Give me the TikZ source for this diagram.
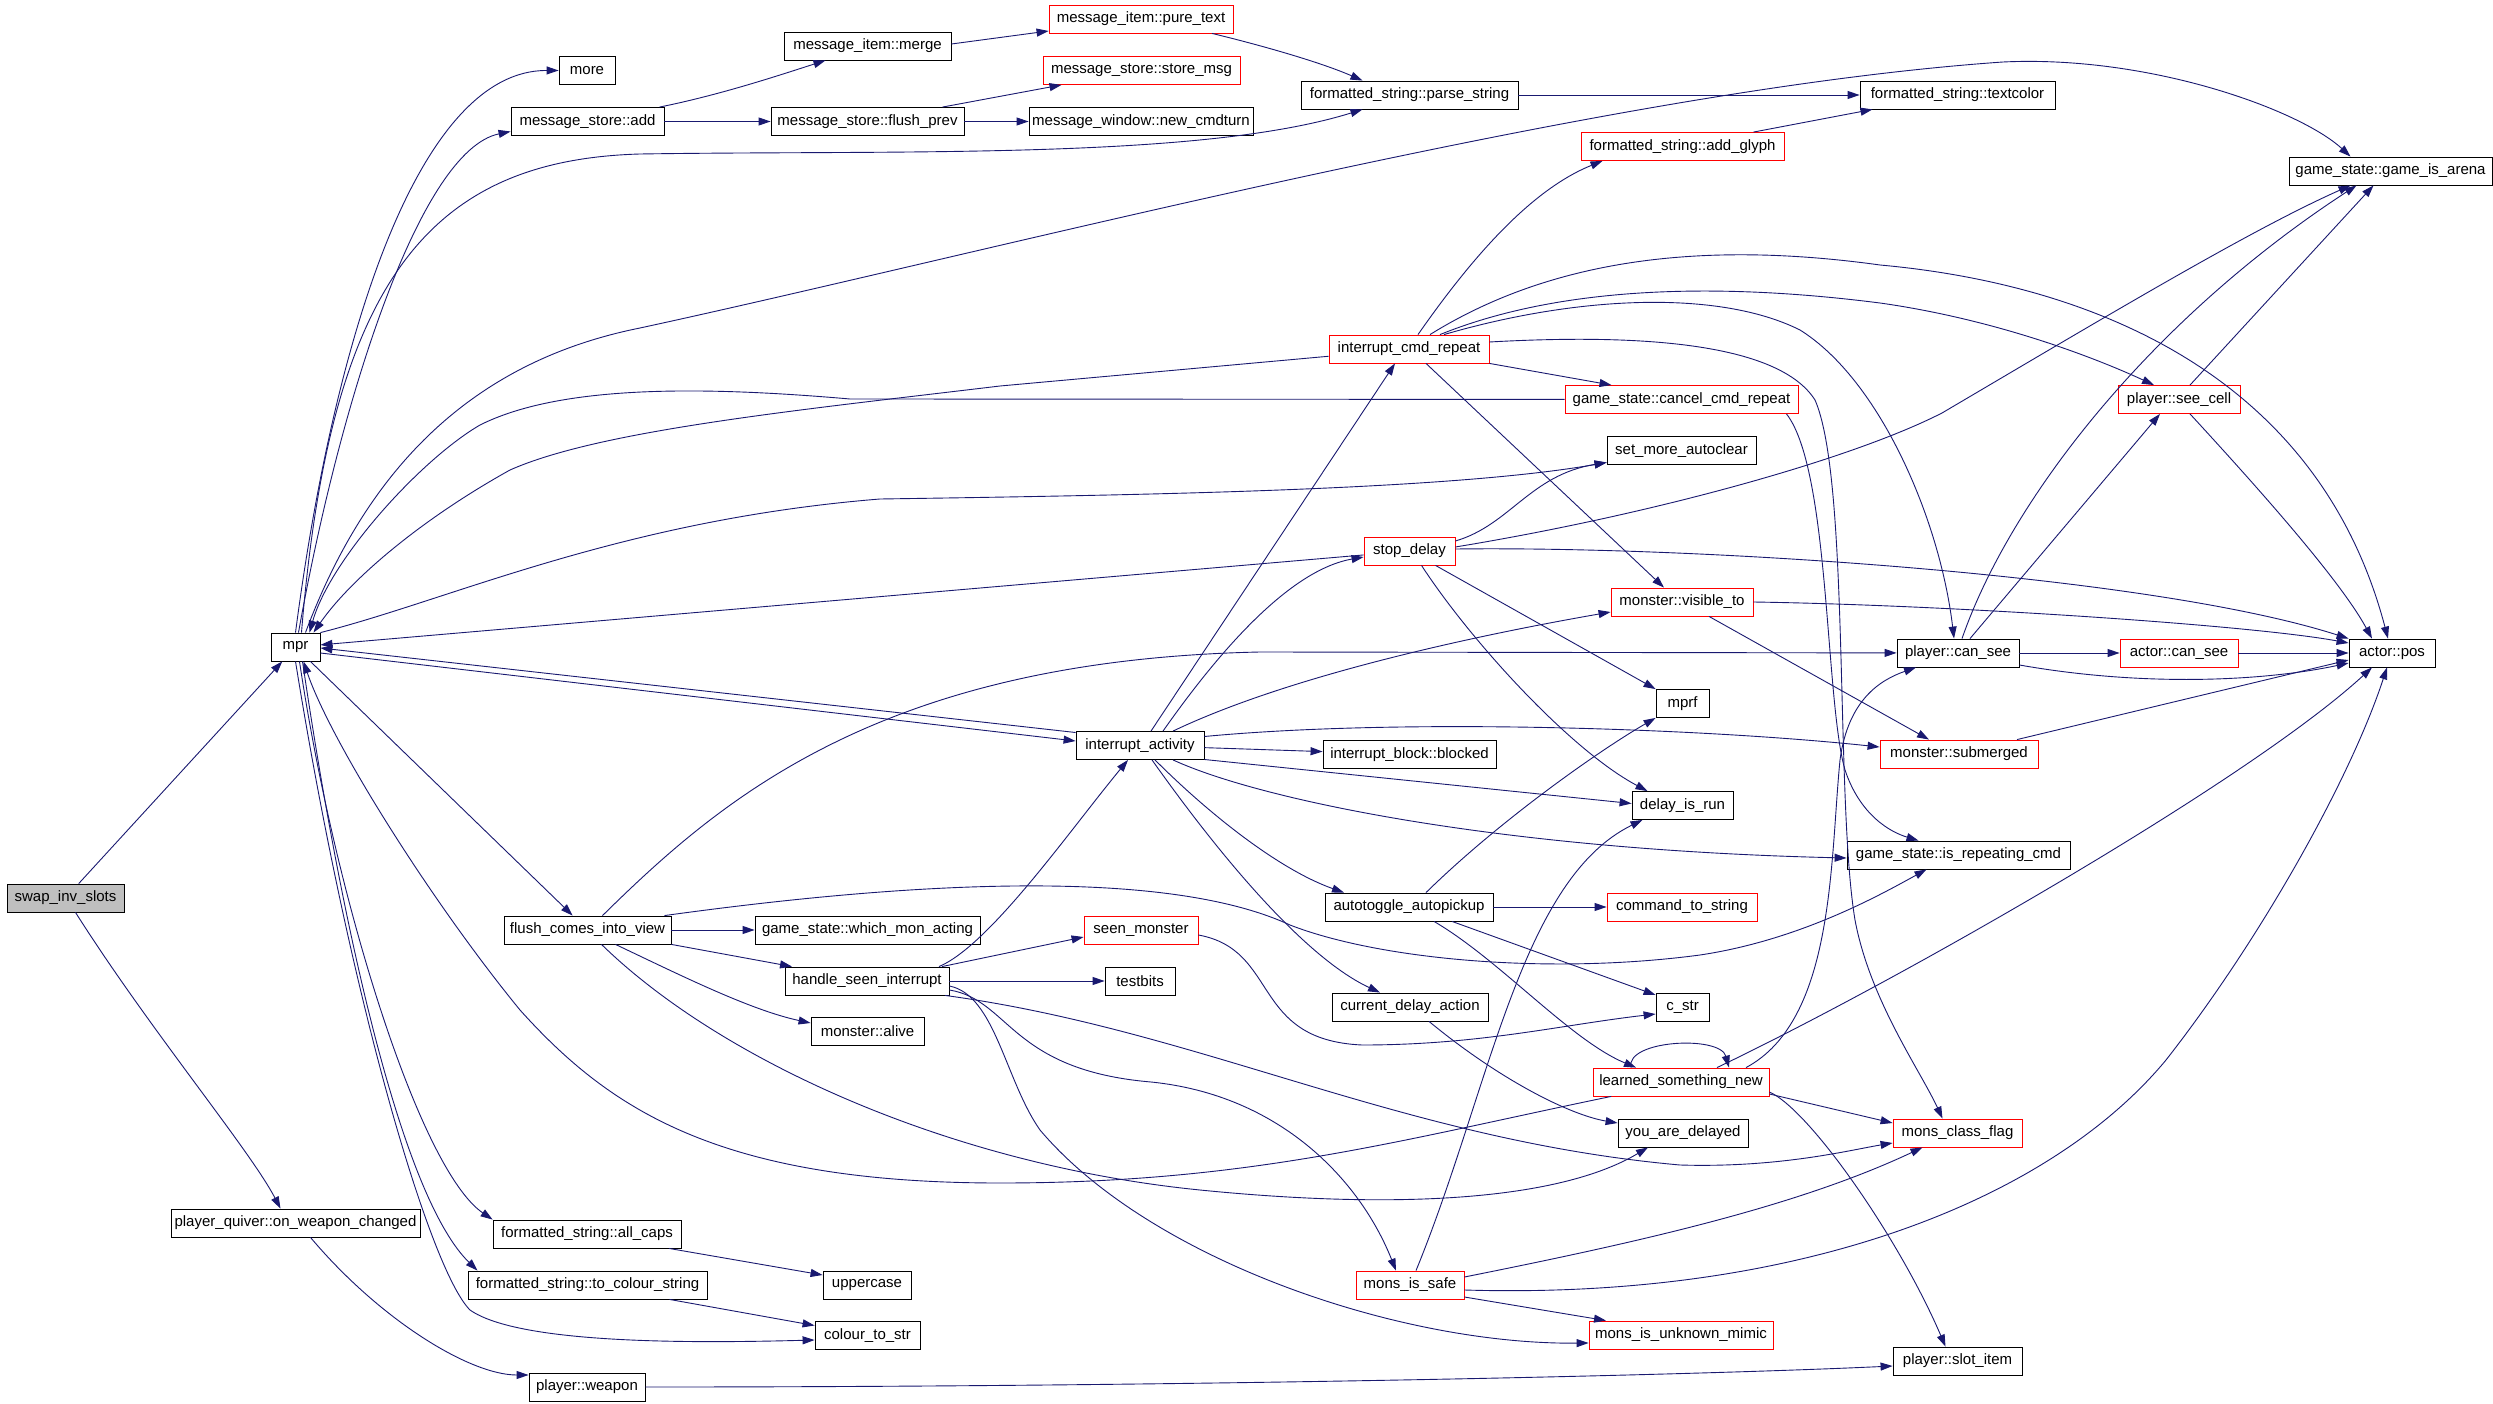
\documentclass[tikz,border=0pt]{standalone}
\usepackage{fontspec}
\setmainfont{Liberation Sans}
\usetikzlibrary{arrows.meta}
\definecolor{edgecol}{HTML}{191970}
\definecolor{swapgray}{HTML}{BFBFBF}
\begin{document}
\begin{tikzpicture}[x=1pt,y=-1pt,
  nb/.style={draw=black, line width=0.85pt, fill=white, inner sep=0pt, minimum height=28pt, font=\fontsize{15pt}{18pt}\selectfont},
  rb/.style={nb, draw=red},
  cedge/.style={draw=edgecol, line width=0.9pt, -{Triangle[length=12pt,width=8pt]}}]
\fill[white] (0,0) rectangle (2493,1404);
\path[use as bounding box] (0,0) rectangle (2493,1404);

% nodes
\node[nb, minimum width=117pt, fill=swapgray] (swap) at (65.5,898) {swap\_inv\_slots};
\node[nb, minimum width=49pt] (mpr) at (295.5,647) {mpr};
\node[nb, minimum width=56pt] (more) at (587,70.5) {more};
\node[nb, minimum width=153pt] (msadd) at (587.5,121.5) {message\_store::add};
\node[nb, minimum width=167pt] (merge) at (867.5,46) {message\_item::merge};
\node[rb, minimum width=184pt] (puretext) at (1141,19) {message\_item::pure\_text};
\node[rb, minimum width=197pt] (storemsg) at (1141.5,70.5) {message\_store::store\_msg};
\node[nb, minimum width=193pt] (flushprev) at (867.5,121.5) {message\_store::flush\_prev};
\node[nb, minimum width=224pt] (newcmd) at (1141,121.5) {message\_window::new\_cmdturn};
\node[nb, minimum width=217pt] (parse) at (1409.5,95) {formatted\_string::parse\_string};
\node[nb, minimum width=195pt] (textcolor) at (1957.5,95) {formatted\_string::textcolor};
\node[rb, minimum width=203pt] (addglyph) at (1682.5,146.5) {formatted\_string::add\_glyph};
\node[nb, minimum width=203pt] (arena) at (2390.5,171) {game\_state::game\_is\_arena};
\node[rb, minimum width=160pt] (icr) at (1409,349) {interrupt\_cmd\_repeat};
\node[rb, minimum width=233pt] (cancel) at (1681.5,399.5) {game\_state::cancel\_cmd\_repeat};
\node[nb, minimum width=149pt] (autoclear) at (1681.5,450.5) {set\_more\_autoclear};
\node[rb, minimum width=122pt] (seecell) at (2179,399.5) {player::see\_cell};
\node[rb, minimum width=91pt] (stopdelay) at (1409.5,551) {stop\_delay};
\node[rb, minimum width=142pt] (visible) at (1682,602) {monster::visible\_to};
\node[nb, minimum width=122pt] (pcansee) at (1958,653) {player::can\_see};
\node[rb, minimum width=118pt] (acansee) at (2179,653) {actor::can\_see};
\node[nb, minimum width=86pt] (pos) at (2392,653) {actor::pos};
\node[nb, minimum width=53pt] (mprf) at (1682.5,703.5) {mprf};
\node[nb, minimum width=128pt] (ia) at (1140,745.5) {interrupt\_activity};
\node[nb, minimum width=173pt] (blocked) at (1409.5,754.5) {interrupt\_block::blocked};
\node[rb, minimum width=158pt] (submerged) at (1959,754) {monster::submerged};
\node[nb, minimum width=101pt] (delayrun) at (1682.5,805.5) {delay\_is\_run};
\node[nb, minimum width=223pt] (repeating) at (1958.5,855) {game\_state::is\_repeating\_cmd};
\node[nb, minimum width=168pt] (autopickup) at (1409,907) {autotoggle\_autopickup};
\node[rb, minimum width=150pt] (cmdstr) at (1682,907) {command\_to\_string};
\node[nb, minimum width=167pt] (fciv) at (587.5,930) {flush\_comes\_into\_view};
\node[nb, minimum width=225pt] (whichmon) at (867.5,930) {game\_state::which\_mon\_acting};
\node[rb, minimum width=114pt] (seenmon) at (1141,930) {seen\_monster};
\node[nb, minimum width=164pt] (hsi) at (867,981) {handle\_seen\_interrupt};
\node[nb, minimum width=70pt] (testbits) at (1140,981) {testbits};
\node[nb, minimum width=113pt] (alive) at (867.5,1031) {monster::alive};
\node[nb, minimum width=156pt] (cda) at (1410,1007) {current\_delay\_action};
\node[nb, minimum width=53pt] (cstr) at (1682.5,1007) {c\_str};
\node[rb, minimum width=176pt] (learned) at (1681,1082) {learned\_something\_new};
\node[nb, minimum width=130pt] (youdelayed) at (1683,1133) {you\_are\_delayed};
\node[rb, minimum width=129pt] (classflag) at (1957.5,1133) {mons\_class\_flag};
\node[nb, minimum width=249pt] (owc) at (295.5,1223) {player\_quiver::on\_weapon\_changed};
\node[nb, minimum width=188pt] (allcaps) at (587,1234) {formatted\_string::all\_caps};
\node[nb, minimum width=88pt] (uppercase) at (867,1285) {uppercase};
\node[nb, minimum width=239pt] (tocolour) at (587.5,1285) {formatted\_string::to\_colour\_string};
\node[nb, minimum width=105pt] (colourtostr) at (867.5,1335.5) {colour\_to\_str};
\node[rb, minimum width=108pt] (safe) at (1410,1285) {mons\_is\_safe};
\node[rb, minimum width=184pt] (mimic) at (1681,1335) {mons\_is\_unknown\_mimic};
\node[nb, minimum width=116pt] (weapon) at (587,1387) {player::weapon};
\node[nb, minimum width=129pt] (slotitem) at (1957.5,1361) {player::slot\_item};

% swap_inv_slots
\draw[cedge] (swap) -- (mpr);
\draw[cedge] ([xshift=10pt]swap.south) .. controls (150,1030) and (250,1150) .. ([xshift=-15pt]owc.north);

% mpr
\draw[cedge] (mpr.north) .. controls (335,330) and (420,70) .. (more.west);
\draw[cedge] ([xshift=3pt]mpr.north) .. controls (340,400) and (420,150) .. ([yshift=-10pt]msadd.west);
\draw[cedge] ([xshift=6pt]mpr.north) .. controls (330,280) and (430,160) .. (640,154) .. controls (900,150) and (1200,160) .. ([xshift=-47pt]parse.south);
\draw[cedge] ([xshift=10pt]mpr.north) .. controls (370,460) and (480,360) .. (640,328) .. controls (1000,250) and (1600,90) .. (2003,62) .. controls (2150,55) and (2300,110) .. ([xshift=-40pt]arena.north);
\draw[cedge] (mpr.north east) .. controls (450,600) and (620,520) .. (880,499) .. controls (1150,495) and (1450,490) .. ([yshift=-12pt]autoclear.west);
\draw[cedge] (mpr) -- (fciv);
\draw[cedge] ([yshift=-6pt]mpr.east) -- ([yshift=4.5pt]ia.west);
\draw[cedge] ([yshift=13pt]ia.west) -- ([yshift=-1pt]mpr.east);
\draw[cedge] ([xshift=4pt]mpr.south) .. controls (335,900) and (420,1170) .. (allcaps.north west);
\draw[cedge] ([xshift=7pt]mpr.south) .. controls (345,950) and (405,1200) .. ([xshift=-110pt]tocolour.north);
\draw[cedge] (mpr.south) .. controls (350,1000) and (430,1270) .. (470,1310) .. controls (520,1345) and (700,1343) .. ([yshift=-4.5pt]colourtostr.west);
\draw[cedge] (learned) .. controls (1400,1140) and (1250,1183) .. (1000,1183) .. controls (720,1183) and (610,1110) .. (520,1010) .. controls (430,900) and (330,740) .. ([xshift=8pt]mpr.south);
\draw[cedge] (cancel) -- (850,399) .. controls (700,386) and (560,385) .. (480,425) .. controls (420,460) and (330,560) .. ([xshift=14pt]mpr.north);
\draw[cedge] (icr) -- (1000,386) .. controls (800,410) and (600,430) .. (510,470) .. controls (420,520) and (350,580) .. ([xshift=18pt]mpr.north);
\draw[cedge] (stopdelay) -- (mpr);

% message store chain
\draw[cedge] ([xshift=72pt]msadd.north) .. controls (720,95) and (780,75) .. ([xshift=-42pt]merge.south);
\draw[cedge] (msadd) -- (flushprev);
\draw[cedge] ([yshift=2pt]merge.east) -- ([yshift=-12pt]puretext.west);
\draw[cedge] ([xshift=71pt]puretext.south) .. controls (1260,45) and (1320,62) .. ([xshift=-47pt]parse.north);
\draw[cedge] ([xshift=75pt]flushprev.north) -- ([xshift=-80pt]storemsg.south);
\draw[cedge] (flushprev) -- (newcmd);
\draw[cedge] (parse) -- (textcolor);
\draw[cedge] ([xshift=71pt]addglyph.north) -- ([xshift=-85pt]textcolor.south);

% interrupt_cmd_repeat
\draw[cedge] ([xshift=9pt]icr.north) .. controls (1470,260) and (1530,190) .. ([xshift=-80pt]addglyph.south);
\draw[cedge] (icr.south east) -- ([xshift=-70pt]cancel.north);
\draw[cedge] ([xshift=17pt]icr.south) -- ([xshift=-18pt]visible.north);
\draw[cedge] ([xshift=21pt]icr.north) .. controls (1550,260) and (1700,240) .. (1880,265) .. controls (2100,285) and (2320,380) .. ([xshift=-4pt]pos.north);
\draw[cedge] ([xshift=31pt]icr.north) .. controls (1550,290) and (1700,280) .. (1880,303) .. controls (2000,320) and (2100,360) .. ([xshift=-25pt]seecell.north);
\draw[cedge] ([xshift=35pt]icr.north) .. controls (1580,295) and (1720,290) .. (1800,330) .. controls (1880,380) and (1940,520) .. ([xshift=-4pt]pcansee.north);
\draw[cedge] ([yshift=7pt]icr.east) .. controls (1650,333) and (1780,345) .. (1815,400) .. controls (1850,480) and (1835,800) .. (1855,920) .. controls (1870,1000) and (1920,1070) .. ([xshift=-15pt]classflag.north);

% cancel_cmd_repeat
\draw[cedge] ([xshift=105pt]cancel.south) .. controls (1830,470) and (1825,700) .. (1845,770) .. controls (1860,815) and (1890,832) .. ([xshift=-40pt]repeating.north);

% stop_delay
\draw[cedge] ([yshift=10pt]stopdelay.east) .. controls (1510,525) and (1530,475) .. ([yshift=-12pt]autoclear.west);
\draw[cedge] ([yshift=4pt]stopdelay.east) .. controls (1650,515) and (1850,460) .. (1942,413) .. controls (2100,320) and (2250,230) .. ([xshift=-40pt]arena.south);
\draw[cedge] ([yshift=2pt]stopdelay.east) .. controls (1700,546) and (2150,575) .. (pos.north west);
\draw[cedge] ([xshift=26pt]stopdelay.south) -- (mprf.north west);
\draw[cedge] ([xshift=12pt]stopdelay.south) .. controls (1470,640) and (1570,750) .. ([xshift=-35pt]delayrun.north);

% monster::visible_to
\draw[cedge] (visible.east) .. controls (1950,605) and (2250,625) .. ([yshift=10pt]pos.west);
\draw[cedge] ([xshift=27pt]visible.south) -- ([xshift=-30pt]submerged.north);

% player::can_see, see_cell, submerged
\draw[cedge] (pcansee) -- (acansee);
\draw[cedge] (acansee) -- (pos);
\draw[cedge] ([yshift=-12pt]pcansee.east) .. controls (2150,688) and (2270,680) .. ([yshift=-10pt]pos.west);
\draw[cedge] ([xshift=4pt]pcansee.north) .. controls (2010,500) and (2150,320) .. ([xshift=-34pt]arena.south);
\draw[cedge] ([xshift=12pt]pcansee.north) -- ([xshift=-19pt]seecell.south);
\draw[cedge] ([xshift=11pt]seecell.north) -- ([xshift=-17pt]arena.south);
\draw[cedge] ([xshift=11pt]seecell.south) .. controls (2260,490) and (2340,580) .. ([xshift=-20pt]pos.north);
\draw[cedge] ([xshift=58pt]submerged.north) -- ([yshift=-7pt]pos.west);

% learned_something_new
\draw[cedge] ([xshift=36pt]learned.north) .. controls (1900,980) and (2250,780) .. ([xshift=-20pt]pos.south);
\draw[cedge] ([xshift=-50pt]learned.north) .. controls (1625,1040) and (1720,1035) .. ([xshift=48pt]learned.north);
\draw[cedge] ([yshift=-12pt]learned.east) -- ([yshift=10pt]classflag.west);
\draw[cedge] ([yshift=-10pt]learned.east) .. controls (1810,1110) and (1900,1240) .. ([xshift=-12pt]slotitem.north);
\draw[cedge] ([xshift=65pt]learned.north) .. controls (1835,1020) and (1830,860) .. (1840,760) .. controls (1848,700) and (1880,680) .. ([xshift=-42pt]pcansee.south);

% mons_is_safe
\draw[cedge] ([yshift=-5pt]safe.east) .. controls (1800,1300) and (2050,1200) .. (2166,1060) .. controls (2260,940) and (2350,780) .. ([xshift=-5pt]pos.south);
\draw[cedge] ([yshift=8pt]safe.east) .. controls (1650,1240) and (1800,1205) .. ([xshift=-35pt]classflag.south);
\draw[cedge] ([yshift=-12pt]safe.east) -- ([xshift=-75pt]mimic.north);
\draw[cedge] ([xshift=6pt]safe.north) .. controls (1490,1090) and (1520,880) .. ([xshift=-40pt]delayrun.south);

% handle_seen_interrupt
\draw[cedge] ([xshift=75pt]hsi.north) -- ([yshift=-7pt]seenmon.west);
\draw[cedge] (hsi) -- (testbits);
\draw[cedge] ([xshift=72pt]hsi.north) .. controls (990,945) and (1070,830) .. ([xshift=-12pt]ia.south);
\draw[cedge] ([yshift=-9pt]hsi.east) .. controls (1010,1000) and (1010,1070) .. (1151,1082) .. controls (1280,1095) and (1360,1180) .. ([xshift=-14pt]safe.north);
\draw[cedge] ([yshift=-5pt]hsi.east) .. controls (995,995) and (1005,1080) .. (1040,1130) .. controls (1150,1260) and (1400,1345) .. ([yshift=-8pt]mimic.west);
\draw[cedge] ([xshift=78pt]hsi.south) .. controls (1200,1030) and (1400,1140) .. (1680,1165) .. controls (1780,1168) and (1850,1150) .. ([yshift=-10pt]classflag.west);

% flush_comes_into_view
\draw[cedge] (fciv) -- (whichmon);
\draw[cedge] (fciv.south east) -- ([xshift=-75pt]hsi.north);
\draw[cedge] ([xshift=28pt]fciv.south) .. controls (680,975) and (750,1010) .. ([yshift=8pt]alive.west);
\draw[cedge] ([xshift=15pt]fciv.north) .. controls (720,800) and (880,660) .. (1260,652) -- (pcansee);
\draw[cedge] ([xshift=77pt]fciv.north) .. controls (850,890) and (1150,860) .. (1290,925) .. controls (1380,960) and (1550,975) .. (1700,955) .. controls (1800,940) and (1880,895) .. ([xshift=-32pt]repeating.south);
\draw[cedge] ([xshift=14pt]fciv.south) .. controls (720,1060) and (950,1165) .. (1200,1190) .. controls (1400,1210) and (1560,1200) .. ([xshift=-35pt]youdelayed.south);

% interrupt_activity
\draw[cedge] ([xshift=11pt]ia.north) -- ([xshift=-14pt]icr.south);
\draw[cedge] ([xshift=23pt]ia.north) .. controls (1220,650) and (1290,570) .. ([yshift=-6pt]stopdelay.west);
\draw[cedge] ([xshift=33pt]ia.north) .. controls (1280,680) and (1450,640) .. ([yshift=-10pt]visible.west);
\draw[cedge] ([yshift=9pt]ia.east) .. controls (1400,718) and (1700,728) .. ([yshift=7pt]submerged.west);
\draw[cedge] (ia) -- (blocked);
\draw[cedge] ([yshift=-14pt]ia.east) -- ([yshift=2pt]delayrun.west);
\draw[cedge] ([xshift=33pt]ia.south) .. controls (1260,800) and (1500,850) .. ([yshift=-3pt]repeating.west);
\draw[cedge] ([xshift=15pt]ia.south) .. controls (1210,815) and (1280,870) .. ([xshift=-65pt]autopickup.north);
\draw[cedge] ([xshift=12pt]ia.south) .. controls (1230,870) and (1310,960) .. ([xshift=-30pt]cda.north);

% autotoggle_autopickup
\draw[cedge] (autopickup) -- (cmdstr);
\draw[cedge] ([xshift=17pt]autopickup.north) .. controls (1500,820) and (1600,750) .. (mprf.south west);
\draw[cedge] ([xshift=43pt]autopickup.south) -- ([yshift=12pt]cstr.west);
\draw[cedge] ([xshift=25pt]autopickup.south) .. controls (1500,960) and (1570,1040) .. ([xshift=-45pt]learned.north);

% seen_monster, current_delay_action
\draw[cedge] ([yshift=-5pt]seenmon.east) .. controls (1280,950) and (1250,1040) .. (1362,1045) .. controls (1480,1045) and (1560,1025) .. ([yshift=-7pt]cstr.west);
\draw[cedge] ([xshift=19pt]cda.south) .. controls (1500,1080) and (1570,1115) .. ([yshift=10pt]youdelayed.west);

% bottom-left chain
\draw[cedge] ([xshift=15pt]owc.south) .. controls (380,1320) and (470,1375) .. ([yshift=12pt]weapon.west);
\draw[cedge] (weapon.east) .. controls (1200,1387) and (1700,1375) .. ([yshift=-5pt]slotitem.west);
\draw[cedge] ([xshift=82pt]allcaps.south) -- ([yshift=10pt]uppercase.west);
\draw[cedge] ([xshift=82pt]tocolour.south) -- ([yshift=10pt]colourtostr.west);
\end{tikzpicture}
\end{document}
